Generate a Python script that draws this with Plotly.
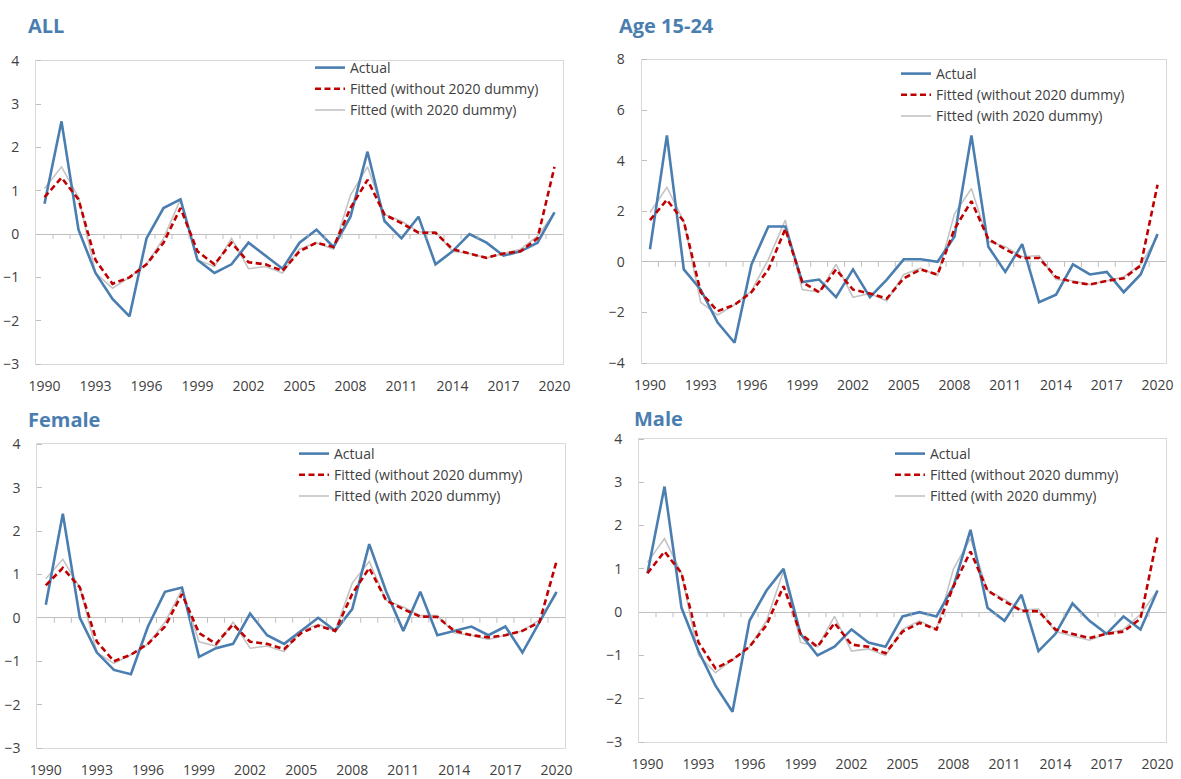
import plotly.graph_objects as go

W, H = 1181, 779

years = list(range(1990, 2021))
tick_years = [1990, 1993, 1996, 1999, 2002, 2005, 2008, 2011, 2014, 2017, 2020]

# ALL
all_actual = [0.7, 2.6, 0.1, -0.9, -1.5, -1.9, -0.1, 0.6, 0.8, -0.6, -0.9, -0.7, -0.2, -0.5, -0.8, -0.2,
              0.1, -0.3, 0.4, 1.9, 0.3, -0.1, 0.4, -0.7, -0.4, 0.0, -0.2, -0.5, -0.4, -0.2, 0.5]
all_fit_no = [0.85, 1.3, 0.8, -0.6, -1.15, -1.0, -0.7, -0.2, 0.6, -0.4, -0.7, -0.2, -0.65, -0.7, -0.85, -0.4,
              -0.2, -0.3, 0.6, 1.25, 0.45, 0.25, 0.03, 0.03, -0.35, -0.45, -0.55, -0.45, -0.4, -0.1, 1.55]
all_fit_with = [1.05, 1.55, 0.85, -0.9, -1.25, -1.0, -0.7, -0.1, 0.8, -0.6, -0.75, -0.1, -0.8, -0.75, -0.9, -0.35,
                -0.2, -0.35, 0.9, 1.55, 0.45, 0.3, 0.05, 0.05, -0.4, -0.45, -0.55, -0.45, -0.35, -0.05, 0.5]

# Age 15-24
age_actual = [0.5, 5.0, -0.3, -1.1, -2.4, -3.2, -0.1, 1.4, 1.4, -0.8, -0.7, -1.4, -0.3, -1.4, -0.7, 0.1,
              0.1, 0.0, 1.0, 5.0, 0.6, -0.4, 0.7, -1.6, -1.3, -0.1, -0.5, -0.4, -1.2, -0.5, 1.1]
age_fit_no = [1.65, 2.45, 1.6, -1.2, -1.95, -1.7, -1.2, -0.3, 1.3, -0.8, -1.2, -0.3, -1.1, -1.25, -1.45, -0.65,
              -0.3, -0.5, 1.3, 2.4, 0.9, 0.5, 0.15, 0.15, -0.6, -0.8, -0.9, -0.75, -0.65, -0.15, 3.05]
age_fit_with = [1.95, 2.95, 1.6, -1.6, -2.1, -1.7, -1.15, 0.1, 1.65, -1.1, -1.2, -0.1, -1.4, -1.25, -1.55, -0.5,
                -0.25, -0.55, 1.9, 2.9, 0.8, 0.6, 0.2, 0.25, -0.7, -0.75, -0.9, -0.75, -0.6, -0.1, 1.0]

# Female
fem_actual = [0.3, 2.4, 0.0, -0.8, -1.2, -1.3, -0.2, 0.6, 0.7, -0.9, -0.7, -0.6, 0.1, -0.4, -0.6, -0.3,
              0.0, -0.3, 0.2, 1.7, 0.6, -0.3, 0.6, -0.4, -0.3, -0.2, -0.4, -0.2, -0.8, -0.1, 0.6]
fem_fit_no = [0.75, 1.15, 0.7, -0.55, -1.0, -0.85, -0.6, -0.2, 0.55, -0.35, -0.6, -0.15, -0.55, -0.6, -0.72, -0.35,
              -0.18, -0.3, 0.55, 1.15, 0.4, 0.2, 0.03, 0.02, -0.3, -0.4, -0.45, -0.4, -0.3, -0.1, 1.3]
fem_fit_with = [0.9, 1.35, 0.7, -0.8, -1.05, -0.85, -0.6, -0.1, 0.65, -0.55, -0.65, -0.1, -0.7, -0.65, -0.78, -0.3,
                -0.15, -0.3, 0.8, 1.3, 0.4, 0.25, 0.05, 0.05, -0.35, -0.4, -0.5, -0.4, -0.3, -0.05, 0.55]

# Male
male_actual = [0.9, 2.9, 0.1, -0.9, -1.7, -2.3, -0.2, 0.5, 1.0, -0.5, -1.0, -0.8, -0.4, -0.7, -0.8, -0.1,
               0.0, -0.1, 0.6, 1.9, 0.1, -0.2, 0.4, -0.9, -0.5, 0.2, -0.2, -0.5, -0.1, -0.4, 0.5]
male_fit_no = [0.9, 1.4, 0.9, -0.7, -1.3, -1.1, -0.8, -0.3, 0.6, -0.5, -0.8, -0.25, -0.75, -0.8, -0.95, -0.45,
               -0.25, -0.4, 0.6, 1.4, 0.5, 0.25, 0.03, 0.02, -0.4, -0.5, -0.6, -0.5, -0.45, -0.15, 1.75]
male_fit_with = [1.15, 1.7, 0.9, -1.0, -1.4, -1.1, -0.8, -0.2, 0.95, -0.7, -0.8, -0.1, -0.9, -0.85, -1.0, -0.4,
                 -0.2, -0.4, 1.0, 1.7, 0.5, 0.3, 0.05, 0.07, -0.45, -0.55, -0.65, -0.5, -0.4, -0.05, 0.5]

BLUE = '#4a7eb0'
RED = '#c00000'
GREY = '#c4c4c4'
TXT = '#404040'
FRAME = '#d9d9d9'
FONT = 'Open Sans, Noto Sans, sans-serif'


def fx(px):
    return px / W


def fy(py):
    return 1 - py / H


# (title, data, y range, dtick, plot box in px: left, right, top, bottom, title pos, legend text pos)
panels = [
    ('ALL', (all_actual, all_fit_no, all_fit_with), [-3, 4], 1,
     (36, 563, 60.7, 364), (26, 25), (350, 66)),
    ('Age 15-24', (age_actual, age_fit_no, age_fit_with), [-4, 8], 2,
     (641.5, 1166, 59.5, 363), (617, 25), (936, 72)),
    ('Female', (fem_actual, fem_fit_no, fem_fit_with), [-3, 4], 1,
     (37.3, 565, 444.3, 748), (26, 419), (334, 452)),
    ('Male', (male_actual, male_fit_no, male_fit_with), [-3, 4], 1,
     (639, 1166, 439, 742), (632, 418), (930, 452)),
]

fig = go.Figure()
layout = {}
annotations = []
shapes = []

for i, (title, (actual, fit_no, fit_with), yr, dt, box, tpos, lpos) in enumerate(panels):
    n = '' if i == 0 else str(i + 1)
    xa, ya, lg = 'x' + n, 'y' + n, 'legend' + n
    common = dict(xaxis=xa, yaxis=ya, legend=lg, mode='lines')
    # grey first so it sits underneath
    fig.add_trace(go.Scatter(x=years, y=fit_with, name='Fitted (with 2020 dummy)', legendrank=3,
                             line=dict(color=GREY, width=1.6), **common))
    fig.add_trace(go.Scatter(x=years, y=actual, name='Actual', legendrank=1,
                             line=dict(color=BLUE, width=2.6), **common))
    fig.add_trace(go.Scatter(x=years, y=fit_no, name='Fitted (without 2020 dummy)', legendrank=2,
                             line=dict(color=RED, width=2.6, dash='6px,3.5px'), **common))
    l, r, t, b = box
    layout['xaxis' + n] = dict(
        domain=[fx(l), fx(r)], anchor=ya, range=[1989.5, 2020.5], automargin=False,
        tickvals=tick_years, ticktext=[str(v) for v in tick_years],
        showgrid=False, zeroline=False, showline=True, mirror=True,
        linecolor=FRAME, linewidth=1, ticks='outside', ticklen=9, tickcolor='rgba(0,0,0,0)',
        tickfont=dict(size=14, color=TXT, family=FONT))
    layout['yaxis' + n] = dict(
        domain=[fy(b), fy(t)], anchor=xa, range=yr, dtick=dt, automargin=False,
        showgrid=False, zeroline=True, zerolinecolor='#bfbfbf', zerolinewidth=1,
        showline=True, mirror=True, linecolor=FRAME, linewidth=1,
        ticks='outside', ticklen=13, tickcolor='rgba(0,0,0,0)',
        minor=dict(ticks='inside', ticklen=5, tickcolor='#bfbfbf', dtick=dt, showgrid=False),
        tickfont=dict(size=14, color=TXT, family=FONT))
    layout[lg] = dict(x=fx(lpos[0] - 40), y=fy(lpos[1] - 14), xanchor='left', yanchor='top',
                      bgcolor='rgba(0,0,0,0)', font=dict(size=14, color=TXT, family=FONT),
                      traceorder='normal', tracegroupgap=0)
    annotations.append(dict(text='<b>' + title + '</b>', x=fx(tpos[0]), y=fy(tpos[1]),
                            xref='paper', yref='paper', xanchor='left', yanchor='middle',
                            showarrow=False, font=dict(size=20, color=BLUE, family=FONT)))
    # small tick marks hanging below the zero line, between categories
    for yv in years[:-1]:
        shapes.append(dict(type='line', xref=xa, yref=ya, x0=yv + 0.5, x1=yv + 0.5,
                           ysizemode='pixel', yanchor=0, y0=0, y1=-5,
                           line=dict(color='#bfbfbf', width=1)))

fig.update_layout(**layout)
fig.update_layout(width=W, height=H, margin=dict(l=0, r=0, t=0, b=0, autoexpand=False),
                  plot_bgcolor='white', paper_bgcolor='white',
                  annotations=annotations, shapes=shapes,
                  font=dict(family=FONT, color=TXT))
# drop the default page margin so the figure fills the window exactly
fig.write_html("out.html", config={'displayModeBar': False},
               post_script="document.body.style.margin='0';document.body.style.overflow='hidden';")
